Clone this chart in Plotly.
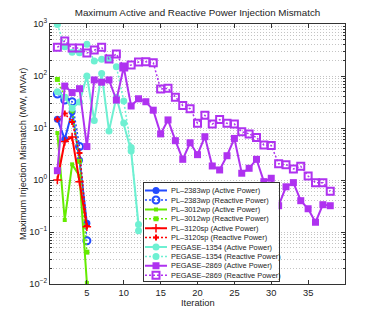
import plotly.graph_objects as go

# iteration numbers
iters5 = [1, 2, 3, 4, 5]
iters12 = list(range(1, 13))
iters38 = list(range(1, 39))

# max mismatch per iteration (MW for active, MVAr for reactive)
pl2383_p = [14.7, 6.1, 20.6, 2.4, 0.147]
pl2383_q = [45, 34.5, 32, 4.4, 0.068]
pl3012_p = [8.0, 0.17, 2.0, 1.2, 0.0105]
pl3012_q = [86, 40, 22, 2.3, 0.041]
pl3120_p = [1.0, 5.5, 6.7, 0.93, 0.126]
pl3120_q = [14.7, 19, 13, 3.3, 0.13]
pegase1354_p = [50, 39, 24, 31.5, 100, 14, 112, 8.8, 39, 12.5, 3.6, 0.14]
pegase1354_q = [980, 366, 286, 281, 407, 194, 209, 210, 151, 33, 4.2, 0.106]
pegase2869_p = [1.51, 64, 48, 57, 4.4, 84, 76, 84, 34.5, 147, 26.5, 36.5, 32, 22,
                7.7, 14.3, 5.7, 2.5, 5.2, 3.07, 6.8, 1.86, 1.56, 2.93, 6.3, 1.35,
                1.68, 2.5, 0.93, 1.08, 0.32, 0.74, 0.89, 0.40, 0.28, 0.154, 0.335, 0.32]
pegase2869_q = [356, 471, 345, 345, 277, 316, 356, 212, 265, 149, 163, 186, 188, 180,
                56, 58, 39, 27, 23.5, 12.3, 17.5, 11.9, 14.5, 12.3, 11.9, 8.5, 7.7,
                6.6, 4.7, 4.6, 2.06, 1.97, 1.63, 1.83, 1.19, 0.89, 0.89, 0.61]

# tick labels
x_tickvals = [5, 10, 15, 20, 25, 30, 35]
y_tickvals = [0.01, 0.1, 1, 10, 100, 1000]
y_ticktext = ["10<sup>−2</sup>", "10<sup>−1</sup>", "10<sup>0</sup>",
              "10<sup>1</sup>", "10<sup>2</sup>", "10<sup>3</sup>"]

BLUE = "rgb(35,75,255)"
GREEN = "rgb(100,235,0)"
RED = "rgb(255,0,0)"
AQUA = "rgb(110,240,210)"
PURPLE = "rgb(175,50,240)"
FONT = "Liberation Sans, Arial, sans-serif"

# (name, x, y, color, dash, width, marker)
series = [
    ("PL–2383wp (Active Power)", iters5, pl2383_p, BLUE, "solid", 2,
     dict(symbol="circle", size=7, color=BLUE)),
    ("PL–2383wp (Reactive Power)", iters5, pl2383_q, BLUE, "2px,2px", 1.5,
     dict(symbol="circle-open", size=7, color=BLUE, line=dict(width=2, color=BLUE))),
    ("PL–3012wp (Active Power)", iters5, pl3012_p, GREEN, "solid", 2,
     dict(symbol="square", size=4, color=GREEN)),
    ("PL–3012wp (Reactive Power)", iters5, pl3012_q, GREEN, "2px,2px", 1.5,
     dict(symbol="square", size=5, color=GREEN)),
    ("PL–3120sp (Active Power)", iters5, pl3120_p, RED, "solid", 2,
     dict(symbol="cross-thin", size=6, color=RED, line=dict(width=1.5, color=RED))),
    ("PL–3120sp (Reactive Power)", iters5, pl3120_q, RED, "2px,2px", 1.5,
     dict(symbol="cross", size=5, color=RED)),
    ("PEGASE–1354 (Active Power)", iters12, pegase1354_p, AQUA, "solid", 2,
     dict(symbol="circle", size=7, color=AQUA)),
    ("PEGASE–1354 (Reactive Power)", iters12, pegase1354_q, AQUA, "2px,2px", 1.5,
     dict(symbol="circle", size=7, color=AQUA)),
    ("PEGASE–2869 (Active Power)", iters38, pegase2869_p, PURPLE, "solid", 2,
     dict(symbol="square", size=7, color=PURPLE)),
    ("PEGASE–2869 (Reactive Power)", iters38, pegase2869_q, PURPLE, "2px,2px", 1.5,
     dict(symbol="square-open", size=7, color=PURPLE, line=dict(width=2, color=PURPLE))),
]

fig = go.Figure()
for name, x, y, col, dash, w, mk in series:
    fig.add_trace(go.Scatter(x=x, y=y, name=name, mode="lines+markers",
                             line=dict(color=col, dash=dash, width=w),
                             marker=mk, showlegend=False))

# compact legend box drawn on its own small axes (plotly legend rows are too tall)
row_h = 9.4
for i, (name, x, y, col, dash, w, mk) in enumerate(series):
    yy = 7.6 + i * row_h
    fig.add_trace(go.Scatter(x=[1.5, 12.5, 23.5], y=[yy, yy, yy], mode="lines+markers",
                             line=dict(color=col, dash=dash, width=w),
                             marker=dict(mk, opacity=[0, 1, 0]),
                             xaxis="x2", yaxis="y2", showlegend=False, hoverinfo="skip"))
    fig.add_annotation(x=25, y=yy, xref="x2", yref="y2", text=name, showarrow=False,
                       xanchor="left", yanchor="middle",
                       font=dict(size=7.4, color="#222", family=FONT))

fig.add_shape(type="rect", xref="x2", yref="y2", x0=0, x1=135, y0=0, y1=98,
              fillcolor="white", line=dict(width=0), layer="below")

# axis titles
fig.add_annotation(text="Maximum Injection Mismatch (MW, MVAr)", xref="paper", yref="paper",
                   x=-27 / 295, y=0.5, textangle=-90, showarrow=False,
                   xanchor="center", yanchor="middle", font=dict(size=9.3, color="#222"))
fig.add_annotation(text="Iteration", xref="paper", yref="paper",
                   x=0.5, y=-19 / 260, showarrow=False,
                   xanchor="center", yanchor="middle", font=dict(size=9.3, color="#222"))

# page body has an 8px margin, so the figure is 8px smaller and margins shifted
grid = "#c4c4c4"
fig.update_layout(
    width=373, height=312,
    margin=dict(l=42, r=36, t=16, b=36),
    paper_bgcolor="white", plot_bgcolor="white",
    font=dict(family=FONT, size=9.3, color="#222"),
    title=dict(text="Maximum Active and Reactive Power Injection Mismatch",
               x=0.5, xref="paper", y=1 - 5 / 312, yanchor="middle",
               font=dict(size=9.8, color="#222")),
    xaxis=dict(range=[0, 40], tickmode="array", tickvals=x_tickvals,
               showgrid=False, zeroline=False,
               ticks="inside", ticklen=4, tickcolor="#333", automargin=False,
               showline=True, linecolor="#333", linewidth=1, mirror="ticks"),
    yaxis=dict(type="log", range=[-2, 3], tickmode="array",
               tickvals=y_tickvals, ticktext=y_ticktext,
               showgrid=True, gridcolor=grid, griddash="1px,2px", zeroline=False,
               ticks="inside", ticklen=4, tickcolor="#333", automargin=False,
               showline=True, linecolor="#333", linewidth=1, mirror="ticks",
               minor=dict(showgrid=True, gridcolor=grid, griddash="1px,2px",
                          ticks="inside", ticklen=2, tickcolor="#333",
                          tickmode="linear", dtick="D1")),
    xaxis2=dict(domain=[(143.5 - 50) / 295, (278.5 - 50) / 295], range=[0, 135],
                anchor="y2", showgrid=False, zeroline=False, showticklabels=False,
                ticks="", showline=True, mirror=True, linecolor="#333", linewidth=1),
    yaxis2=dict(domain=[3 / 260, 101 / 260], range=[98, 0], anchor="x2",
                showgrid=False, zeroline=False, showticklabels=False,
                ticks="", showline=True, mirror=True, linecolor="#333", linewidth=1),
)

fig.write_html("out.html")
